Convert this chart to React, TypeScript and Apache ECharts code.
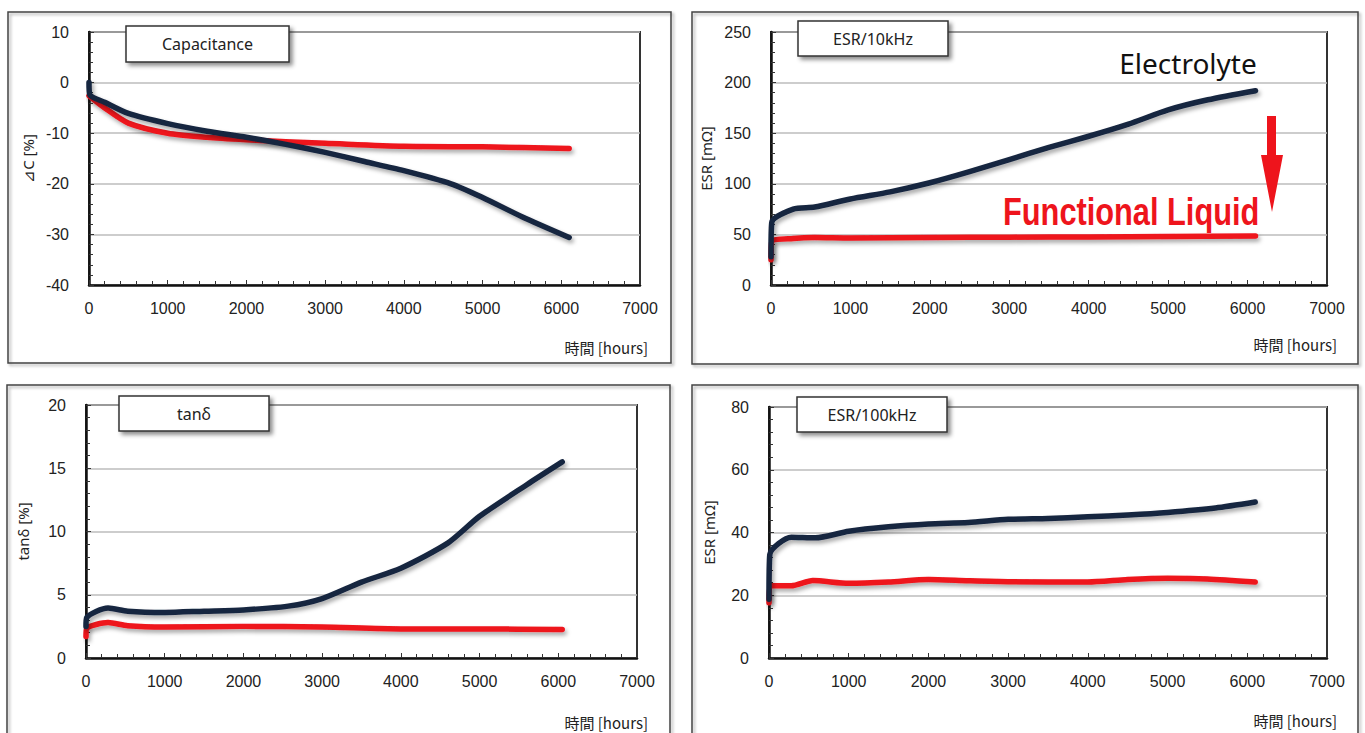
import React, { useEffect, useRef } from "react";
import * as echarts from "echarts";

// ---- data (hours, value) ----
const xTicks = [0, 1000, 2000, 3000, 4000, 5000, 6000, 7000];

const capElecX = [0, 10, 200, 500, 1000, 1500, 2000, 2500, 3000, 3500, 4000, 4600, 5000, 5500, 6100];
const capElecY = [0, -2.4, -3.9, -6.1, -8.1, -9.6, -10.8, -12.2, -13.8, -15.6, -17.4, -20.0, -22.7, -26.5, -30.6];
const capFuncX = [0, 200, 500, 1000, 1500, 2000, 2500, 3000, 4000, 5000, 6100];
const capFuncY = [-2.6, -5.0, -8.0, -10.0, -10.8, -11.3, -11.7, -12.0, -12.6, -12.7, -13.0];

const esr10ElecX = [0, 10, 280, 550, 1000, 1500, 2000, 2500, 3000, 3500, 4000, 4500, 5000, 5500, 6100];
const esr10ElecY = [28, 62, 75, 77, 85, 92, 101, 112, 124, 136, 147, 159, 173, 183, 192];
const esr10FuncX = [0, 10, 280, 550, 1000, 2000, 3000, 4000, 5000, 6100];
const esr10FuncY = [25, 43, 46, 47, 46.5, 47, 47.3, 47.5, 48, 48.5];

const tanElecX = [0, 10, 280, 530, 1000, 1500, 2000, 2570, 3000, 3500, 4000, 4600, 5000, 5600, 6050];
const tanElecY = [2.5, 3.2, 3.95, 3.7, 3.6, 3.7, 3.8, 4.1, 4.7, 6.0, 7.1, 9.1, 11.2, 13.7, 15.5];
const tanFuncX = [0, 10, 280, 530, 1000, 2000, 3000, 4000, 5000, 6050];
const tanFuncY = [1.7, 2.35, 2.8, 2.55, 2.45, 2.5, 2.45, 2.3, 2.3, 2.25];

const esr100ElecX = [0, 10, 280, 580, 1000, 1500, 2000, 2500, 3000, 3500, 4000, 4500, 5000, 5600, 6100];
const esr100ElecY = [18.7, 33.0, 38.5, 38.3, 40.4, 41.8, 42.7, 43.2, 44.2, 44.5, 45.0, 45.6, 46.4, 47.8, 49.7];
const esr100FuncX = [0, 10, 280, 550, 1000, 1500, 2000, 2500, 3000, 4000, 4500, 5000, 5500, 6100];
const esr100FuncY = [17.6, 23.0, 23.0, 24.7, 23.8, 24.2, 25.0, 24.6, 24.3, 24.2, 25.0, 25.4, 25.2, 24.2];

const panelTitles = ["Capacitance", "ESR/10kHz", "tanδ", "ESR/100kHz"];
const yNames = ["⊿C [%]", "ESR [mΩ]", "tanδ [%]", "ESR [mΩ]"];
const yMins = [-40, 0, 0, 0];
const yMaxs = [10, 250, 20, 80];
const yIntervals = [10, 50, 5, 20];
const xName = "時間 [hours]";
const noteElectrolyte = "Electrolyte";
const noteFunctional = "Functional Liquid";

const NAVY = "#16253f";
const RED = "#ee141c";
const FONT = "'Liberation Sans', Arial, sans-serif";

const zip = (xs: number[], ys: number[]) => xs.map((x, i) => [x, ys[i]]);

export default function App() {
  const ref = useRef<HTMLDivElement>(null);
  useEffect(() => {
    if (!ref.current) return;
    const chart = echarts.init(ref.current, null, { renderer: "svg" });

    const grids = [
      { left: 89, top: 32, width: 551, height: 253 },
      { left: 771, top: 32, width: 556, height: 253 },
      { left: 86, top: 405, width: 551, height: 253 },
      { left: 769, top: 407, width: 558, height: 251 },
    ];
    const nameGaps = [54, 58, 56, 53];

    const grid = grids.map((g) => ({
      ...g,
      show: true,
      borderColor: "#333",
      borderWidth: 2,
      backgroundColor: "transparent",
      containLabel: false,
    }));

    const xAxis = grids.map((_, i) => ({
      type: "value",
      gridIndex: i,
      min: xTicks[0],
      max: xTicks[xTicks.length - 1],
      interval: 1000,
      axisLine: { show: true, onZero: false, lineStyle: { color: "#111", width: 2.5 } },
      axisTick: { show: true, inside: true, length: 5, lineStyle: { color: "#333", width: 1 } },
      minorTick: { show: true, splitNumber: 5, length: 4, lineStyle: { color: "#333", width: 1 } },
      splitLine: { show: false },
      axisLabel: {
        margin: 15,
        fontSize: 16,
        color: "#222",
        fontFamily: FONT,
        formatter: (v: number) => String(v),
      },
    }));

    const yAxis = grids.map((_, i) => ({
      type: "value",
      gridIndex: i,
      min: yMins[i],
      max: yMaxs[i],
      interval: yIntervals[i],
      name: yNames[i],
      nameLocation: "middle",
      nameGap: nameGaps[i],
      nameTextStyle: { fontSize: 15, color: "#222", fontFamily: "'Noto Sans', sans-serif" },
      axisLine: { show: true, onZero: false, lineStyle: { color: "#111", width: 2.5 } },
      axisTick: { show: true, inside: true, length: 5, lineStyle: { color: "#333", width: 1 } },
      minorTick: { show: true, splitNumber: 5, length: 4, lineStyle: { color: "#333", width: 1 } },
      splitLine: { show: true, lineStyle: { color: "#bdbdbd", width: 1.5 } },
      axisLabel: { margin: 20, fontSize: 16, color: "#222", fontFamily: FONT },
    }));

    const mkSeries = (name: string, idx: number, data: number[][], color: string) => ({
      type: "line",
      name,
      xAxisIndex: idx,
      yAxisIndex: idx,
      data,
      showSymbol: false,
      symbol: "none",
      smooth: 0.25,
      clip: false,
      z: color === RED ? 3 : 4,
      lineStyle: {
        color,
        width: 5.5,
        cap: "round",
        join: "round",
        shadowColor: "rgba(0,0,0,0.35)",
        shadowBlur: 4,
        shadowOffsetX: 2,
        shadowOffsetY: 3,
      },
    });

    const series = [
      mkSeries("Functional Liquid", 0, zip(capFuncX, capFuncY), RED),
      mkSeries("Electrolyte", 0, zip(capElecX, capElecY), NAVY),
      mkSeries("Functional Liquid", 1, zip(esr10FuncX, esr10FuncY), RED),
      mkSeries("Electrolyte", 1, zip(esr10ElecX, esr10ElecY), NAVY),
      mkSeries("Functional Liquid", 2, zip(tanFuncX, tanFuncY), RED),
      mkSeries("Electrolyte", 2, zip(tanElecX, tanElecY), NAVY),
      mkSeries("Functional Liquid", 3, zip(esr100FuncX, esr100FuncY), RED),
      mkSeries("Electrolyte", 3, zip(esr100ElecX, esr100ElecY), NAVY),
    ];

    const frames = [
      { x: 8, y: 12, w: 663, h: 351 },
      { x: 692, y: 12, w: 666, h: 352 },
      { x: 7, y: 385, w: 663, h: 360 },
      { x: 692, y: 385, w: 666, h: 360 },
    ];
    const boxes = [
      { x: 126, y: 26, w: 163, h: 36 },
      { x: 798, y: 21, w: 150, h: 35 },
      { x: 119, y: 396, w: 150, h: 35 },
      { x: 797, y: 397, w: 150, h: 35 },
    ];
    const xNamePos = [
      [648, 347],
      [1337, 344],
      [648, 722],
      [1337, 720],
    ];

    const graphic: any[] = [];
    frames.forEach((f) =>
      graphic.push({
        type: "rect",
        z: -1,
        shape: { x: f.x, y: f.y, width: f.w, height: f.h },
        style: {
          fill: "none",
          stroke: "#444",
          lineWidth: 1.5,
          shadowColor: "rgba(0,0,0,0.35)",
          shadowBlur: 3,
          shadowOffsetX: 2,
          shadowOffsetY: 2,
        },
      })
    );
    boxes.forEach((b, i) => {
      graphic.push({
        type: "rect",
        z: 20,
        shape: { x: b.x, y: b.y, width: b.w, height: b.h },
        style: {
          fill: "#fff",
          stroke: "#333",
          lineWidth: 1.5,
          shadowColor: "rgba(0,0,0,0.45)",
          shadowBlur: 4,
          shadowOffsetX: 3,
          shadowOffsetY: 3,
        },
      });
      graphic.push({
        type: "text",
        z: 21,
        x: b.x + b.w / 2,
        y: b.y + b.h / 2,
        style: {
          text: panelTitles[i],
          align: "center",
          verticalAlign: "middle",
          fontSize: 16,
          fill: "#222",
          fontFamily: "'Noto Sans', sans-serif",
        },
      });
    });
    xNamePos.forEach((p) =>
      graphic.push({
        type: "text",
        z: 21,
        x: p[0],
        y: p[1],
        style: {
          text: xName,
          align: "right",
          verticalAlign: "middle",
          fontSize: 15,
          fill: "#222",
          fontFamily: "'Noto Sans CJK JP', sans-serif",
        },
      })
    );
    graphic.push({
      type: "text",
      z: 21,
      x: 1188,
      y: 63,
      style: {
        text: noteElectrolyte,
        align: "center",
        verticalAlign: "middle",
        fontSize: 28,
        fill: "#111",
        fontFamily: "'Noto Sans', sans-serif",
      },
    });
    graphic.push({
      type: "text",
      z: 21,
      x: 1003,
      y: 212,
      scaleX: 0.81,
      style: {
        text: noteFunctional,
        align: "left",
        verticalAlign: "middle",
        fontSize: 38,
        fontWeight: "bold",
        fill: RED,
        fontFamily: "'Liberation Sans', Arial, sans-serif",
      },
    });
    graphic.push({
      type: "polygon",
      z: 21,
      shape: {
        points: [
          [1267, 116],
          [1276, 116],
          [1276, 155],
          [1283, 155],
          [1272, 212],
          [1261, 155],
          [1267, 155],
        ],
      },
      style: { fill: RED },
    });

    chart.setOption({
      animation: false,
      backgroundColor: "#fff",
      grid,
      xAxis,
      yAxis,
      series,
      graphic,
    });
    return () => chart.dispose();
  }, []);

  return (
    <div
      ref={ref}
      style={{ position: "absolute", left: 0, top: 0, width: 1365, height: 733 }}
    />
  );
}
